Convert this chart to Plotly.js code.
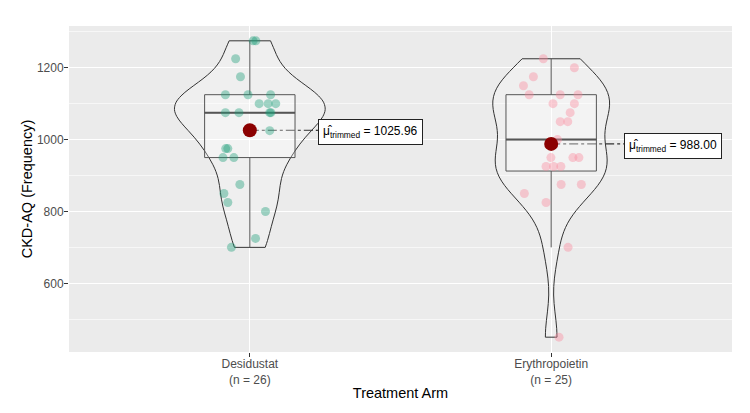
<!DOCTYPE html>
<html>
<head>
<meta charset="utf-8">
<script src="https://cdn.plot.ly/plotly-3.0.1.min.js"></script>
<style>html,body{margin:0;padding:0;background:#fff}</style>
</head>
<body>
<div id="chart" style="width:750px;height:413px"></div>
<script>
// Treatment arms and their CKD-AQ (Frequency) scores
const arms = ['Desidustat', 'Erythropoietin'];
const armN = [26, 25];
const desidustat = [1275, 1275, 1225, 1175, 1125, 1125, 1125, 1100, 1100, 1100, 1075, 1075, 1075, 1075,
  1025, 1025, 975, 975, 950, 950, 875, 850, 825, 800, 725, 700];
const erythropoietin = [1225, 1200, 1175, 1150, 1125, 1125, 1125, 1100, 1100, 1075, 1050, 1050, 1000,
  950, 950, 950, 925, 925, 925, 875, 875, 850, 825, 700, 450];
// horizontal jitter of each point (category units)
const desidustatJitter = [0.011, 0.020, -0.047, -0.031, -0.081, -0.006, 0.069, 0.031, 0.061, 0.086, -0.081, -0.036, 0.066, 0.070,
  0.066, -0.007, -0.080, -0.073, -0.089, -0.053, -0.033, -0.086, -0.073, 0.052, 0.019, -0.061];
const erythropoietinJitter = [-0.026, 0.077, -0.059, -0.092, -0.073, 0.030, 0.089, 0.006, 0.077, 0.063, 0.030, 0.055, 0.021,
  -0.001, 0.072, 0.092, -0.017, 0.008, 0.032, 0.033, 0.100, -0.089, -0.017, 0.056, 0.026];
const trimmedMeans = [1025.96, 988.00];

const groups = [desidustat, erythropoietin];
const jitters = [desidustatJitter, erythropoietinJitter];
const pointColors = ['rgba(27,158,119,0.4)', 'rgba(250,135,155,0.4)'];
const labelX = [1.226, 2.243];
const labelShift = [-2, -2];

function quantile(sorted, p) {
  const h = (sorted.length - 1) * p;
  const lo = Math.floor(h);
  const hi = Math.min(lo + 1, sorted.length - 1);
  return sorted[lo] + (h - lo) * (sorted[hi] - sorted[lo]);
}
// Silverman's rule (R's bw.nrd0)
function nrd0(v) {
  const s = [...v].sort((a, b) => a - b);
  const n = v.length;
  const mean = v.reduce((a, b) => a + b, 0) / n;
  const sd = Math.sqrt(v.reduce((a, b) => a + (b - mean) ** 2, 0) / (n - 1));
  const iqr = quantile(s, 0.75) - quantile(s, 0.25);
  return 0.9 * Math.min(sd, iqr / 1.34) * Math.pow(n, -0.2);
}
// peak of the gaussian density estimate over the data span
function kdePeak(v, bw) {
  const lo = Math.min(...v), hi = Math.max(...v);
  let best = 0;
  for (let k = 0; k <= 500; k++) {
    const t = lo + (hi - lo) * k / 500;
    let s = 0;
    for (const x of v) { const z = (t - x) / bw; s += Math.exp(-0.5 * z * z); }
    best = Math.max(best, s / (v.length * bw * Math.sqrt(2 * Math.PI)));
  }
  return best;
}

// area-scaled violins: the densest arm gets the full width
const bws = groups.map(nrd0);
const peaks = groups.map((v, i) => kdePeak(v, bws[i]));
const peakMax = Math.max(...peaks);

const traces = [];
groups.forEach((vals, i) => {
  const g = i + 1;
  traces.push({
    type: 'violin', x: vals.map(() => g), y: vals, width: 0.5 * peaks[i] / peakMax,
    bandwidth: bws[i], spanmode: 'hard', scalegroup: 'arm' + g, scalemode: 'width',
    points: false, box: {visible: false}, meanline: {visible: false},
    line: {color: '#333333', width: 1}, fillcolor: 'rgba(255,255,255,0.2)',
    hoverinfo: 'skip', showlegend: false
  });
});
groups.forEach((vals, i) => {
  const g = i + 1;
  traces.push({
    type: 'box', x: vals.map(() => g), y: vals, width: 0.3, whiskerwidth: 0,
    boxpoints: 'outliers', marker: {opacity: 0, size: 1},
    line: {color: '#555555', width: 1}, fillcolor: 'rgba(255,255,255,0.25)',
    hoverinfo: 'skip', showlegend: false
  });
  // heavier median bar
  const med = quantile([...vals].sort((a, b) => a - b), 0.5);
  traces.push({
    type: 'scatter', mode: 'lines', x: [g - 0.15, g + 0.15], y: [med, med],
    line: {color: '#555555', width: 2}, hoverinfo: 'skip', showlegend: false
  });
});
groups.forEach((vals, i) => {
  const g = i + 1;
  traces.push({
    type: 'scatter', mode: 'markers',
    x: vals.map((v, k) => g + jitters[i][k]), y: vals,
    marker: {size: 9, color: pointColors[i], line: {width: 0}},
    showlegend: false
  });
});
traces.push({
  type: 'scatter', mode: 'markers', x: [1, 2], y: trimmedMeans,
  marker: {size: 14, color: '#8B0000'}, showlegend: false
});

// ggplot-style 5% expansion of the data range
const all = groups.flat();
const yMin = Math.min(...all), yMax = Math.max(...all);
const pad = (yMax - yMin) * 0.05;

const shapes = trimmedMeans.map((m, i) => ({
  type: 'line', xref: 'x', yref: 'y', x0: i + 1, x1: labelX[i], y0: m, y1: m,
  line: {color: '#000', width: 1, dash: 'dashdot'}, layer: 'below'
}));
const annotations = trimmedMeans.map((m, i) => ({
  x: labelX[i], y: m, xref: 'x', yref: 'y', xanchor: 'left', yanchor: 'middle', yshift: labelShift[i],
  text: 'μ̂<sub>trimmed</sub> = ' + m.toFixed(2), showarrow: false,
  bgcolor: '#ffffff', bordercolor: '#222', borderwidth: 1, borderpad: 4,
  font: {size: 12, color: '#000'}
}));

const layout = {
  width: 750, height: 413,
  margin: {l: 69, r: 18, t: 26, b: 61},
  paper_bgcolor: '#ffffff', plot_bgcolor: '#EBEBEB',
  font: {family: 'Liberation Sans, Arial, sans-serif'},
  showlegend: false, violinmode: 'overlay', boxmode: 'overlay',
  xaxis: {
    range: [0.4, 2.6], tickvals: [1, 2],
    ticktext: arms.map((a, i) => a + '<br>(n = ' + armN[i] + ')'),
    showgrid: true, gridcolor: '#ffffff', gridwidth: 1.3, zeroline: false,
    ticks: 'outside', ticklen: 4, tickcolor: '#333', tickwidth: 1, ticklabelstandoff: -3,
    tickfont: {size: 12, color: '#4D4D4D'},
    title: {text: 'Treatment Arm', font: {size: 14.5, color: '#000'}, standoff: 1}
  },
  yaxis: {
    range: [yMin - pad, yMax + pad], tick0: 0, dtick: 200,
    showgrid: true, gridcolor: '#ffffff', gridwidth: 1.3, zeroline: false,
    minor: {dtick: 100, tick0: 0, showgrid: true, gridcolor: '#ffffff', gridwidth: 0.6, ticklen: 0},
    ticks: 'outside', ticklen: 4, tickcolor: '#333', tickwidth: 1, ticklabelstandoff: -2,
    tickfont: {size: 12, color: '#4D4D4D'},
    title: {text: 'CKD-AQ (Frequency)', font: {size: 14.5, color: '#000'}, standoff: 0}
  },
  shapes: shapes,
  annotations: annotations
};

Plotly.newPlot('chart', traces, layout, {displayModeBar: false, staticPlot: true});
</script>
</body>
</html>
